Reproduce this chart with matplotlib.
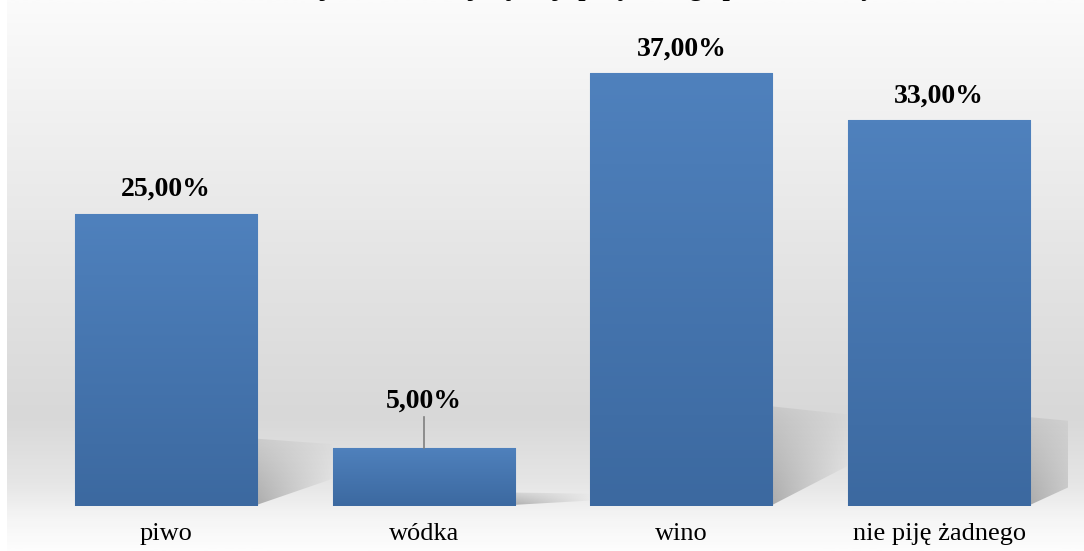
import matplotlib.pyplot as plt
import numpy as np
from matplotlib.patches import Polygon
from matplotlib.colors import LinearSegmentedColormap

# ---------------- data ---------------- #
categories = ['piwo', 'wódka', 'wino', 'nie piję żadnego']
values = [25.0, 5.0, 37.0, 33.0]
labels = ['25,00%', '5,00%', '37,00%', '33,00%']
title = 'Rodzaj alkoholu najczęściej spożywanego przez badanych'

serif = ['Liberation Serif', 'DejaVu Serif']

fig = plt.figure(figsize=(10.84, 5.51), dpi=100)
fig.patch.set_facecolor('white')

# background gradient panel (white top -> grey -> white bottom)
bg = fig.add_axes([7 / 1084, 0, 1 - 7 / 1084, 1], zorder=0)
bg_cmap = LinearSegmentedColormap.from_list('bg', [
    (0.00, '#fbfbfb'), (0.20, '#f1f1f1'), (0.55, '#e1e1e1'),
    (0.76, '#d8d8d8'), (0.88, '#e6e6e6'), (0.95, '#f6f6f6'), (1.00, '#fdfdfd')])
bg.imshow(np.linspace(0, 1, 300).reshape(-1, 1), aspect='auto', cmap=bg_cmap,
          extent=[0, 1, 1, 0])
bg.axis('off')

ax = fig.add_axes([37 / 1084, 45 / 551, 1031 / 1084, 468 / 551], zorder=1)
ax.patch.set_alpha(0)
x = np.arange(len(categories))
width = 0.707

# soft shadows behind the bars
grad = np.ones((60, 100, 4))
grad[..., :3] = 0.5
alpha_x = np.linspace(0.6, 0.05, 100)
alpha_y = np.linspace(0.3, 1.0, 60).reshape(-1, 1)
grad[..., 3] = alpha_x[None, :] * alpha_y
for xi, v in zip(x, values):
    xr = xi + width / 2
    hs = v * 0.23
    dx = 0.29
    poly = Polygon([(xr, 0.1), (xr, hs), (xr + dx, hs * 0.92), (xr + dx, hs * 0.4)],
                   closed=True, facecolor='none', edgecolor='none')
    ax.add_patch(poly)
    im = ax.imshow(grad, extent=[xr, xr + dx, 0, hs], aspect='auto', zorder=1)
    im.set_clip_path(poly)

# bars with vertical gradient
bars = ax.bar(x, values, width=width, color='#4a7ab5', edgecolor='#6f98cc',
              linewidth=0.8, zorder=2)
bar_cmap = LinearSegmentedColormap.from_list('bar', ['#4f81bd', '#3c69a0'])
for b in bars:
    im = ax.imshow(np.linspace(0, 1, 100).reshape(-1, 1), cmap=bar_cmap, aspect='auto',
                   extent=[b.get_x(), b.get_x() + b.get_width(), 0, b.get_height()],
                   zorder=3)
    im.set_clip_path(b)

ax.set_xlim(-0.5, len(categories) - 0.5)
ax.set_ylim(0, 40)

# data labels
for xi, v, lab in zip(x, values, labels):
    if v < 10:
        ax.plot([xi, xi], [v, v + 2.6], color='#7f7f7f', linewidth=1.2, zorder=4)
        ax.text(xi, v + 4.0, lab, ha='center', va='center', fontsize=20,
                fontweight='bold', family=serif, zorder=5)
    else:
        ax.text(xi, v + 2.05, lab, ha='center', va='center', fontsize=20,
                fontweight='bold', family=serif, zorder=5)

ax.set_xticks(x)
ax.set_xticklabels(categories, family=serif, fontsize=19)
ax.tick_params(axis='x', length=0, pad=12)
ax.set_yticks([])
for s in ax.spines.values():
    s.set_visible(False)

# title, cut off at the top edge of the picture (only descenders visible)
fig.text(0.53, 1.008, title, ha='center', va='baseline', fontsize=19,
         fontweight='bold', family=serif)

plt.savefig('out.png', dpi=100)
